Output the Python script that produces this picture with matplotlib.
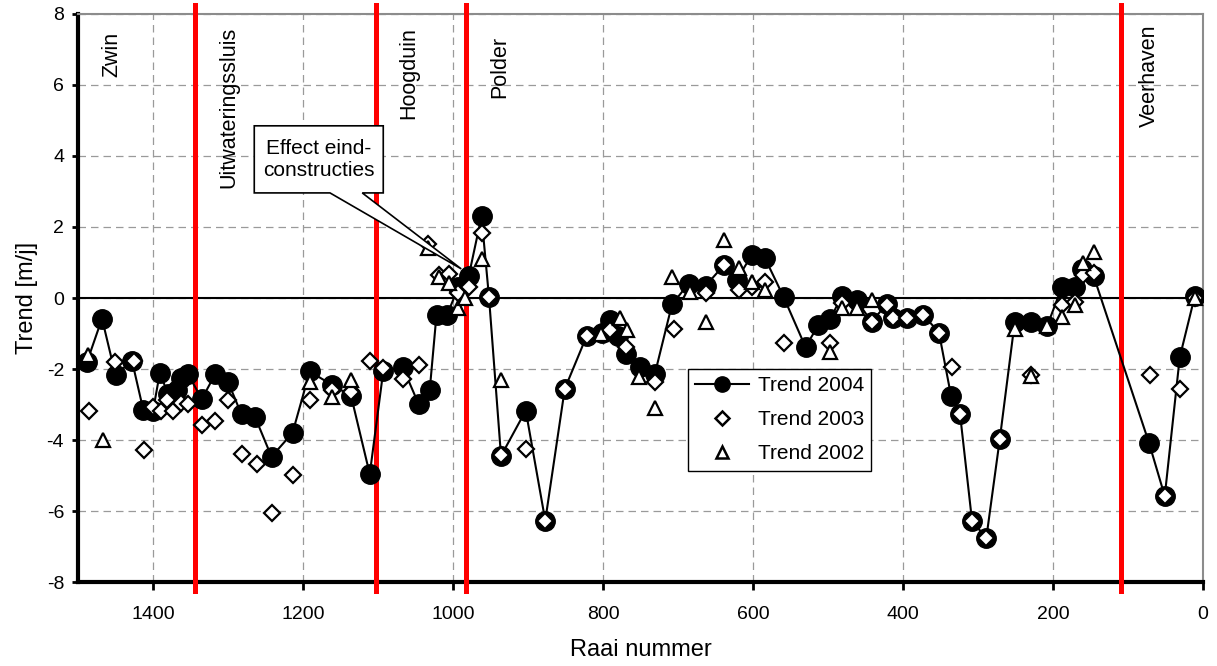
import matplotlib
matplotlib.use("Agg")
import matplotlib.pyplot as plt
from matplotlib.patches import Polygon
from matplotlib.lines import Line2D

plt.rcParams['font.family'] = ['Liberation Sans', 'DejaVu Sans']
plt.rcParams['axes.unicode_minus'] = False

# Trend 2004 (lijn met dichte cirkels)
raai_2004 = [1488, 1468, 1450, 1428, 1413, 1400, 1391, 1380, 1368, 1363, 1353, 1335,
             1317, 1300, 1282, 1264, 1242, 1214, 1191, 1162, 1136, 1111, 1093, 1067,
             1046, 1031, 1022, 1008, 993, 979, 962, 952, 936, 903, 877, 851, 822, 802,
             791, 780, 769, 751, 731, 708, 686, 663, 639, 622, 602, 584, 559, 530, 513,
             497, 482, 462, 442, 422, 413, 395, 373, 352, 336, 324, 308, 289, 271, 251,
             230, 208, 188, 171, 162, 146, 72, 51, 31, 11]
trend_2004 = [-1.8, -0.58, -2.17, -1.77, -3.15, -3.18, -2.12, -2.69, -2.59, -2.26, -2.15, -2.85,
              -2.14, -2.36, -3.28, -3.35, -4.47, -3.8, -2.07, -2.44, -2.75, -4.96, -2.06, -1.95,
              -2.98, -2.58, -0.47, -0.48, 0.3, 0.62, 2.3, 0.02, -4.45, -3.17, -6.27, -2.56, -1.08, -0.98,
              -0.62, -1.08, -1.57, -1.95, -2.15, -0.18, 0.4, 0.35, 0.92, 0.5, 1.2, 1.12, 0.02, -1.38, -0.77,
              -0.6, 0.05, -0.06, -0.67, -0.18, -0.57, -0.57, -0.47, -0.98, -2.75, -3.26, -6.27, -6.77, -3.98, -0.67,
              -0.67, -0.8, 0.32, 0.32, 0.82, 0.63, -4.08, -5.58, -1.67, 0.05]

# Trend 2003 (open ruiten)
raai_2003 = [1486, 1451, 1426, 1412, 1400, 1390, 1381, 1373, 1363, 1353, 1335, 1317,
             1300, 1282, 1262, 1242, 1214, 1191, 1162, 1136, 1111, 1093, 1067, 1046,
             1034, 1019, 1006, 993, 979, 962, 952, 936, 903, 877, 851, 822, 791, 769,
             731, 705, 663, 639, 619, 602, 584, 559, 497, 482, 442, 422, 413, 395, 373,
             352, 335, 324, 308, 289, 271, 230, 188, 171, 160, 146, 71, 51, 31, 11]
trend_2003 = [-3.18, -1.8, -1.77, -4.28, -3.07, -3.17, -2.87, -3.18, -2.97, -2.99, -3.57, -3.46,
              -2.88, -4.38, -4.67, -6.07, -4.98, -2.87, -2.6, -2.66, -1.78, -1.98, -2.28, -1.88,
              1.52, 0.65, 0.67, 0.13, 0.32, 1.82, 0.02, -4.42, -4.25, -6.27, -2.56, -1.08, -0.9, -1.37,
              -2.38, -0.87, 0.13, 0.93, 0.22, 0.3, 0.45, -1.28, -1.28, -0.15, -0.67, -0.2, -0.57, -0.57, -0.47,
              -0.98, -1.95, -3.26, -6.27, -6.77, -3.98, -2.17, -0.2, -0.1, 0.65, 0.7, -2.18, -5.58, -2.56, 0.0]

# Trend 2002 (open driehoeken)
raai_2002 = [1487, 1467, 1191, 1162, 1136, 1034, 1019, 1006, 993, 984, 962, 936, 803,
             778, 768, 752, 731, 708, 684, 663, 639, 619, 602, 584, 497, 482, 462, 442,
             251, 230, 208, 188, 171, 160, 146, 11]
trend_2002 = [-1.6, -4.0, -2.37, -2.78, -2.3, 1.4, 0.6, 0.41, -0.29, -0.01, 1.1, -2.31, -1.0,
              -0.57, -0.9, -2.22, -3.1, 0.6, 0.18, -0.67, 1.62, 0.84, 0.46, 0.23, -1.51, -0.29, -0.29, -0.06,
              -0.88, -2.2, -0.79, -0.53, -0.2, 0.98, 1.3, 0.0]

# Grenzen tussen de vakken en namen
grenzen = [1344, 1103, 983, 109]
vakken = ["Zwin", "Uitwateringssluis", "Hoogduin", "Polder", "Veerhaven"]
vak_raai = [1447, 1292, 1052, 931, 64]
vak_top = [7.49, 7.63, 7.63, 7.38, 7.69]

fig = plt.figure(figsize=(12.17, 6.66), dpi=100)
ax = fig.add_axes([0.0641, 0.1261, 0.9244, 0.8529])

ax.set_xlim(1500, 0)
ax.set_ylim(-8, 8)
ax.set_xticks(range(1400, -1, -200))
ax.set_yticks(range(-8, 9, 2))

ax.grid(True, color='#9a9a9a', linestyle=(0, (6, 4)), linewidth=0.9, zorder=0)
ax.set_axisbelow(True)
ax.axhline(0, color='black', linewidth=1.5, zorder=1)

for g in grenzen:
    ax.axvline(g, ymin=-0.015, ymax=1.016, color='#ff0000', linewidth=3.6,
               clip_on=False, zorder=3)

for naam, r, top in zip(vakken, vak_raai, vak_top):
    ax.text(r, top, naam, rotation=90, rotation_mode='anchor', ha='right',
            va='baseline', fontsize=15.5, zorder=4)

ax.plot(raai_2004, trend_2004, color='black', linewidth=1.5, marker='o',
        markersize=14, markerfacecolor='black', markeredgecolor='black', zorder=5)
ax.plot(raai_2003, trend_2003, linestyle='none', marker='D', markersize=7.8,
        markerfacecolor='white', markeredgecolor='black', markeredgewidth=1.6, zorder=6)
ax.plot(raai_2002, trend_2002, linestyle='none', marker='^', markersize=10.5,
        markerfacecolor='white', markeredgecolor='black', markeredgewidth=1.6, zorder=7)

# Tekstballon "Effect eind-constructies"
ballon = Polygon([(1164, 2.96), (989, 0.82), (1121, 2.96), (1093, 2.96),
                  (1093, 4.85), (1265, 4.85), (1265, 2.96)], closed=True,
                 facecolor='white', edgecolor='black', linewidth=1.2, zorder=8)
ax.add_patch(ballon)
ax.text(1179, 3.9, "Effect eind-\nconstructies", ha='center', va='center',
        fontsize=15, linespacing=1.25, zorder=9)

# legenda met kleinere symbolen dan in de grafiek
handles = [
    Line2D([], [], color='black', linewidth=1.5, marker='o', markersize=11),
    Line2D([], [], linestyle='none', marker='D', markersize=6.8,
           markerfacecolor='white', markeredgecolor='black', markeredgewidth=1.8),
    Line2D([], [], linestyle='none', marker='^', markersize=9,
           markerfacecolor='white', markeredgecolor='black', markeredgewidth=1.8),
]
leg = ax.legend(handles, ['Trend 2004', 'Trend 2003', 'Trend 2002'],
                loc='upper left', bbox_to_anchor=(0.542, 0.375), borderaxespad=0,
                fontsize=15, frameon=True, fancybox=False, edgecolor='black',
                framealpha=1, handlelength=2.6, labelspacing=0.72,
                borderpad=0.35, handletextpad=0.4)
leg.get_frame().set_linewidth(1.0)
leg.set_zorder(10)

for side in ['left', 'bottom']:
    ax.spines[side].set_color('black')
    ax.spines[side].set_linewidth(3)
for side in ['top', 'right']:
    ax.spines[side].set_color('#8c8c8c')
    ax.spines[side].set_linewidth(1.5)

ax.tick_params(axis='x', direction='out', length=6, width=2, pad=11, labelsize=14)
ax.tick_params(axis='y', direction='out', length=4, width=2, pad=6, labelsize=14)

ax.set_xlabel("Raai nummer", fontsize=17, labelpad=12)
ax.set_ylabel("Trend [m/j]", fontsize=17, labelpad=6)

fig.savefig("out.png", dpi=100)
